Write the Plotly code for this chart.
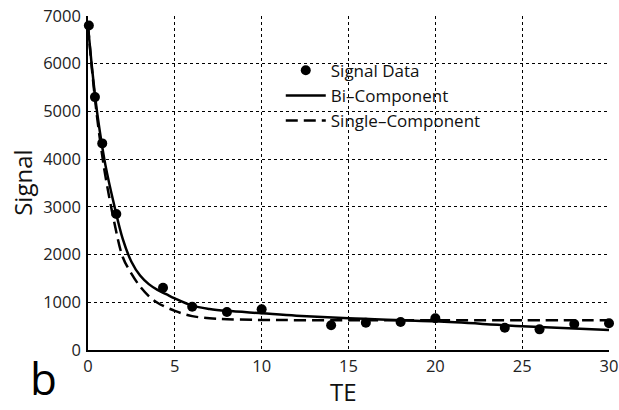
import plotly.graph_objects as go

# Measured data points
te_data = [0.05, 0.4, 0.82, 1.63, 4.32, 6.0, 8.0, 10.0, 14.0, 16.0, 18.0, 20.0, 24.0, 26.0, 28.0, 30.0]
signal_data = [6800, 5300, 4330, 2850, 1306, 908, 796, 852, 517, 573, 587, 664, 468, 433, 545, 559]

# Bi-component fit curve
te_bi = [0, 0.25, 0.5, 0.75, 1.0, 1.5, 2.0, 2.5, 3.0, 3.5, 4.0, 4.5, 5.0, 6.0, 7.0, 8.0, 10, 12, 15, 20, 25, 30]
signal_bi = [6800, 5850, 5050, 4420, 3880, 3050, 2330, 1850, 1560, 1380, 1260, 1170, 1080, 930, 860, 820, 770, 720, 665, 600, 500, 420]

# Single-component fit curve
te_single = [0, 0.25, 0.5, 0.75, 1.0, 1.5, 2.0, 2.5, 3.0, 3.5, 4.0, 5.0, 6.0, 7.0, 8.0, 10, 15, 20, 25, 30]
signal_single = [6800, 5800, 4950, 4250, 3650, 2700, 1950, 1600, 1330, 1130, 990, 820, 710, 665, 645, 630, 625, 625, 625, 625]

x_ticks = [0, 5, 10, 15, 20, 25, 30]
y_ticks = [0, 1000, 2000, 3000, 4000, 5000, 6000, 7000]

FONT = "Open Sans"
PLOT_H = 334.0  # plot area height in px (410 - 16 - 60)

fig = go.Figure()
fig.add_trace(go.Scatter(
    x=te_data, y=signal_data, mode="markers", name="Signal Data",
    marker=dict(color="black", size=10), cliponaxis=False))
fig.add_trace(go.Scatter(
    x=te_bi, y=signal_bi, mode="lines", name="Bi\u2013Component",
    line=dict(color="black", width=2.5, shape="spline")))
fig.add_trace(go.Scatter(
    x=te_single, y=signal_single, mode="lines", name="Single\u2013Component",
    line=dict(color="black", width=2.5, dash="12px,6px", shape="spline")))

axis_common = dict(
    showgrid=True, gridcolor="black", griddash="dot", gridwidth=1,
    showline=True, linecolor="black", linewidth=1.5,
    zeroline=False, ticks="", automargin=False,
    ticklabeloverflow="allow",
    tickfont=dict(family=FONT, size=16.5, color="#222"),
)

fig.update_xaxes(range=[0, 30], tickvals=x_ticks, ticktext=[str(v) for v in x_ticks],
                 ticklabelstandoff=0, **axis_common)
fig.update_yaxes(range=[0, 7000], tickvals=y_ticks, ticktext=[str(v) for v in y_ticks],
                 ticklabelstandoff=2, **axis_common)

# Axis titles and panel label
fig.add_annotation(text="TE", xref="paper", yref="paper", x=0.49, y=-60 / PLOT_H,
                   xanchor="center", yanchor="bottom", showarrow=False,
                   font=dict(family=FONT, size=24, color="#111"))
fig.add_annotation(text="Signal", xref="paper", yref="paper", x=-0.127, y=0.5,
                   xanchor="center", yanchor="middle", showarrow=False, textangle=-90,
                   font=dict(family=FONT, size=24, color="#111"))
fig.add_annotation(text="b", xref="paper", yref="paper", x=-0.086, y=-60 / PLOT_H,
                   xanchor="center", yanchor="bottom", showarrow=False,
                   font=dict(family=FONT, size=44, color="black"))

fig.update_layout(
    width=619, height=410,
    margin=dict(l=88, r=10, t=16, b=60),
    paper_bgcolor="white", plot_bgcolor="white",
    showlegend=True,
    legend=dict(x=0.37, y=0.89, xanchor="left", yanchor="top",
                bgcolor="rgba(0,0,0,0)", borderwidth=0,
                font=dict(family=FONT, size=17, color="#111"),
                tracegroupgap=0, itemwidth=40),
)

fig.write_html("out.html", config={"displayModeBar": False},
               post_script="document.body.style.margin='0px';")
